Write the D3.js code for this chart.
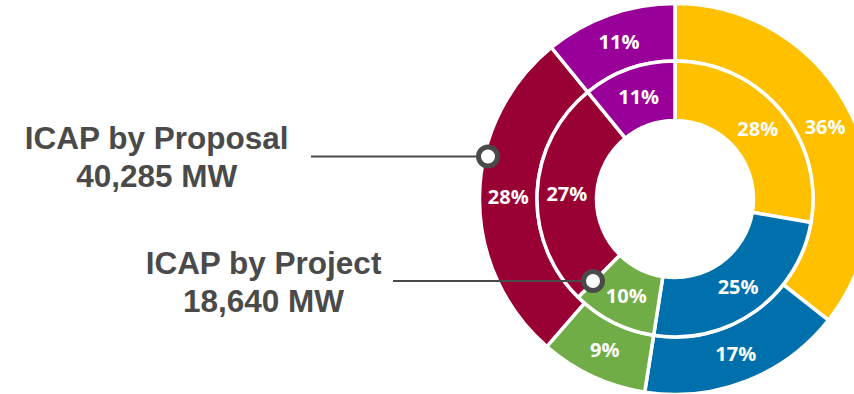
<!DOCTYPE html>
<html>
<head>
<meta charset="utf-8">
<script src="https://cdn.jsdelivr.net/npm/d3@7"></script>
<style>
  html, body { margin: 0; padding: 0; background: #fff; }
  svg { display: block; }
</style>
</head>
<body>
<svg id="chart" width="854" height="394"></svg>
<script>
// Technology categories shared by both rings (clockwise from 12 o'clock)
const categories = ["Cat A", "Cat B", "Cat C", "Cat D", "Cat E"];
const categoryColors = ["#FFC000", "#0070AD", "#70AD47", "#990033", "#990099"];

// Outer ring: share of ICAP by proposal (%)
const proposalShares = [36, 17, 9, 28, 11];
// Inner ring: share of ICAP by project (%)
const projectShares = [28, 25, 10, 27, 11];

// Ring captions
const proposalCaption = ["ICAP by Proposal", "40,285 MW"];
const projectCaption = ["ICAP by Project", "18,640 MW"];

const svg = d3.select("#chart");
const cx = 675, cy = 199;
const rHole = 78.5, rMid = 138, rOuter = 195.5;

const pie = d3.pie().sort(null).value(d => d.value);
const color = d3.scaleOrdinal().domain(categories).range(categoryColors);

const g = svg.append("g").attr("transform", `translate(${cx},${cy})`);

function drawRing(values, r0, r1, cls) {
  const data = categories.map((c, i) => ({ cat: c, value: values[i] }));
  const arcs = pie(data);
  const arc = d3.arc().innerRadius(r0).outerRadius(r1);
  const ring = g.append("g").attr("class", cls);
  ring.selectAll("path")
    .data(arcs)
    .join("path")
    .attr("d", arc)
    .attr("fill", d => color(d.data.cat))
    .attr("stroke", "#fff")
    .attr("stroke-width", 3.5)
    .attr("stroke-linejoin", "miter");
  ring.selectAll("text")
    .data(arcs)
    .join("text")
    .attr("transform", d => `translate(${arc.centroid(d)})`)
    .attr("text-anchor", "middle")
    .attr("dy", "0.36em")
    .attr("fill", "#fff")
    .style("font-family", "'Open Sans', 'Noto Sans', sans-serif")
    .style("font-weight", 700)
    .style("font-size", "20px")
    .text(d => d.data.value + "%");
}

drawRing(proposalShares, rMid, rOuter, "outer-ring");
drawRing(projectShares, rHole, rMid, "inner-ring");

// Callouts: caption text, leader line and ring marker
const ink = "#4a4a4a";
function callout(lines, textX, baseY, lineX0, lineY, markerX) {
  const t = svg.append("text")
    .attr("text-anchor", "middle")
    .attr("fill", ink)
    .style("font-family", "'Liberation Sans', Arial, sans-serif")
    .style("font-weight", 700)
    .style("font-size", "31.5px");
  lines.forEach((s, i) => {
    t.append("tspan").attr("x", textX).attr("y", baseY + i * 38).text(s);
  });
  svg.append("line")
    .attr("x1", lineX0).attr("x2", markerX)
    .attr("y1", lineY).attr("y2", lineY)
    .attr("stroke", ink).attr("stroke-width", 2);
  svg.append("circle")
    .attr("cx", markerX).attr("cy", lineY).attr("r", 9.5)
    .attr("fill", "#fff")
    .attr("stroke", ink).attr("stroke-width", 5);
}

callout(proposalCaption, 156.7, 149.3, 311, 156.5, 488);
callout(projectCaption, 263.5, 274, 393, 281, 593);
</script>
</body>
</html>
